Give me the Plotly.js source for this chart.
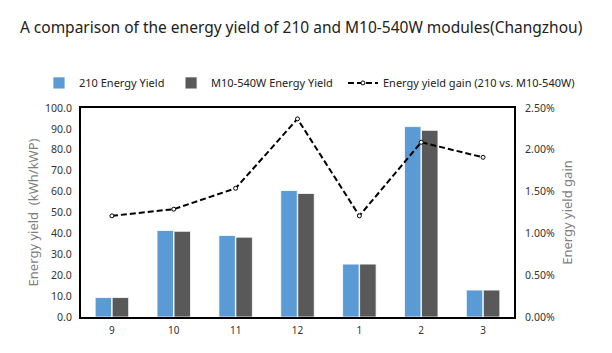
<!DOCTYPE html>
<html>
<head>
<meta charset="utf-8">
<script src="https://cdn.plot.ly/plotly-3.0.1.min.js"></script>
<style>html,body{margin:0;padding:0;background:#fff;}#chart{width:612px;height:353px;}</style>
</head>
<body>
<div id="chart"></div>
<script>
const months = ["9", "10", "11", "12", "1", "2", "3"];
const yield210 = [9.3, 41.4, 39.0, 60.5, 25.3, 91.1, 12.9];
const yieldM10 = [9.3, 41.0, 38.2, 59.1, 25.3, 89.3, 12.9];
const gainPct = [1.21, 1.29, 1.54, 2.37, 1.21, 2.09, 1.91];

const font = "Microsoft YaHei, 'Noto Sans', 'Open Sans', sans-serif";

const traces = [
  {
    type: "bar", name: "210 Energy Yield", x: months, y: yield210, legend: "legend",
    marker: {color: "#5B9BD5", line: {color: "#ffffff", width: 0.8}}
  },
  {
    type: "bar", name: "M10-540W Energy Yield", x: months, y: yieldM10, legend: "legend2",
    marker: {color: "#595959", line: {color: "#ffffff", width: 0.8}}
  },
  {
    type: "scatter", mode: "lines+markers", name: "Energy yield gain (210 vs. M10-540W)",
    x: months, y: gainPct.map(v => v / 100), yaxis: "y2", legend: "legend3",
    line: {color: "#000000", width: 2, dash: "6px,3px"},
    marker: {symbol: "circle", size: 4, color: "#ffffff", line: {color: "#000000", width: 1}}
  }
];

const legendBase = {
  orientation: "h", xanchor: "left", y: 1.12, yanchor: "middle",
  font: {family: font, size: 11, color: "#222222"},
  itemwidth: 30, bgcolor: "rgba(0,0,0,0)", borderwidth: 0
};

const layout = {
  width: 612, height: 353,
  paper_bgcolor: "#ffffff", plot_bgcolor: "#ffffff",
  font: {family: font, size: 10, color: "#333333"},
  margin: {l: 81, r: 98, t: 108, b: 36, pad: 0},
  title: {text: "A comparison of the energy yield of 210 and M10-540W modules(Changzhou)",
          x: 0.492, xanchor: "center", y: 0.923, yanchor: "middle",
          font: {family: font, size: 15.5, color: "#222222"}},
  barmode: "group", bargap: 0.45, bargroupgap: 0.03,
  showlegend: true,
  legend: Object.assign({}, legendBase, {x: -0.097}),
  legend2: Object.assign({}, legendBase, {x: 0.208}),
  legend3: Object.assign({}, legendBase, {x: 0.605}),
  xaxis: {
    type: "category",
    showline: true, linecolor: "#000000", linewidth: 2, mirror: true,
    ticks: "outside", ticklen: 3, tickcolor: "rgba(0,0,0,0)",
    showgrid: false, tickfont: {size: 10, color: "#333333"}, zeroline: false
  },
  yaxis: {
    range: [0, 100], dtick: 10, tickformat: ".1f",
    showline: true, linecolor: "#000000", linewidth: 2, mirror: true,
    ticks: "outside", ticklen: 5, tickcolor: "rgba(0,0,0,0)",
    showgrid: false, zeroline: false,
    tickfont: {size: 10.5, color: "#333333"},
    title: {text: "Energy yield  (kWh/kWP)", font: {size: 13, color: "#7f7f7f"}, standoff: 4}
  },
  yaxis2: {
    overlaying: "y", side: "right", range: [0, 0.025], dtick: 0.005, tickformat: ".2%",
    showline: false, ticks: "outside", ticklen: 8, tickcolor: "rgba(0,0,0,0)",
    showgrid: false, zeroline: false,
    tickfont: {size: 10.5, color: "#333333"},
    title: {text: "Energy yield gain", font: {size: 13, color: "#7f7f7f"}, standoff: 8}
  }
};

Plotly.newPlot("chart", traces, layout, {displayModeBar: false, staticPlot: true});
</script>
</body>
</html>
